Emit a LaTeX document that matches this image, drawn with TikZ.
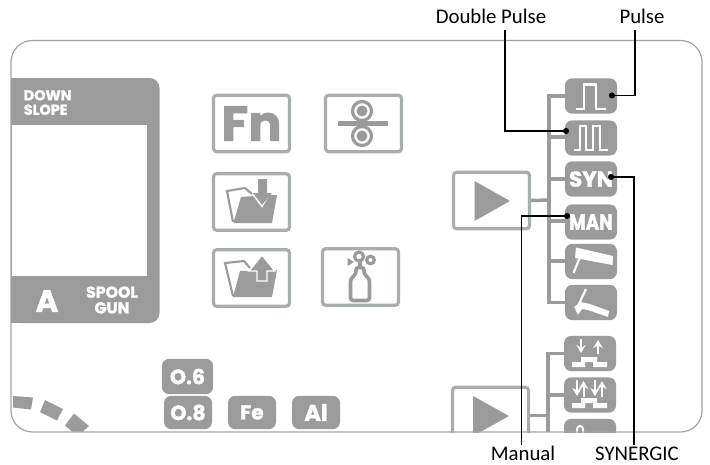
\documentclass[tikz,border=0pt]{standalone}
\usepackage{fontspec}
\usepackage{graphicx}
\setmainfont{Carlito}
\newfontfamily\pop[BoldFeatures={FakeBold=1.6}]{Poppins}
\usetikzlibrary{arrows.meta,calc}
\definecolor{ico}{HTML}{9B9B9B}
\definecolor{fr}{HTML}{A9ADAD}
\definecolor{pan}{HTML}{A3A3A3}
\newcommand{\pf}[1]{\pop\bfseries\fontsize{#1}{#1}\selectfont}
\tikzset{
 x=0.75pt,y=-0.75pt,
 btn/.style={fill=ico,rounded corners=5.5pt,minimum width=39pt,minimum height=26.5pt,inner sep=0pt,text=white},
 sbtn/.style={btn,minimum width=36pt,minimum height=25pt},
 fbox/.style={draw=fr,line width=2.4pt,rounded corners=2.5pt,fill=white,minimum width=57pt,minimum height=42.5pt,inner sep=0pt},
 wire/.style={draw=ico,line width=2.6pt},
 leader/.style={draw=black,line width=0.9pt,-{Circle[length=4.5pt,width=4.5pt]}},
 lbl/.style={font=\fontsize{15.6}{16}\selectfont,text=black,inner sep=0pt,text height=10pt,text depth=3.5pt},
 wl/.style={white,line width=1.7pt},
 disp/.style={white,align=center,inner sep=0pt},
 ar/.style={white,line width=1.5pt,-{Stealth[length=6pt,width=7pt]}},
}
\begin{document}
\begin{tikzpicture}
\useasboundingbox (0,0) rectangle (710,464);
% display
\fill[ico,rounded corners=7.5pt] (11,78) -- (159.5,78) -- (159.5,323) -- (11,323) -- cycle;
\fill[ico] (11,78) rectangle (30,323);
\fill[white] (12,125) rectangle (146.5,276);
\node[disp,anchor=west,align=left,font=\pf{10.8}] (ds) at (23.5,102.5) {\lineskip=0pt\baselineskip=9pt DOWN\\SLOPE};
\node[disp,font=\pf{23}] (da) at (47,301) {A};
\node[disp,font=\pf{11.8}] (dg) at (112,300) {\baselineskip=11pt SPOOL\\GUN};
% boxes
\node[fbox,text=ico,font=\pf{37}] (fn) at (251.5,123.5) {Fn};
\node[fbox] (roll) at (363.5,123.5) {};
\node[fbox] (fd) at (251.5,202) {};
\node[fbox] (fu) at (251.5,278) {};
\node[fbox] (gas) at (360.5,277) {};
% rollers
\draw[ico,line width=2.4pt] (362,111) circle[radius=9.5];
\draw[ico,line width=2.4pt] (362,136) circle[radius=9.5];
\fill[ico] (362,111) circle[radius=5.5];
\fill[ico] (362,136) circle[radius=5.5];
\draw[ico,line width=3.6pt] (338,123.5) -- (388,123.5);
% folder down
\fill[ico] (233.5,223) -- (272,223) -- (277,195) -- (270,195) -- (262,208) -- (253,196) -- (241,197) -- cycle;
\draw[ico,line width=1.6pt] (233,222) -- (227,191) -- (245,188) -- (252,194);
\fill[ico] (258,179) -- (267,179) -- (267,193) -- (272,193) -- (262,205) -- (253,193) -- (258,193) -- cycle;
% folder up
\fill[ico] (233,297) -- (272,297) -- (277,270) -- (240,271) -- cycle;
\draw[ico,line width=1.6pt] (233,296) -- (225,263) -- (244,261) -- (250,268);
\fill[ico,draw=white,line width=1.1pt] (262,255) -- (275,271) -- (267,271) -- (267,281) -- (257,281) -- (257,271) -- (249,271) -- cycle;
% bottle
\draw[ico,line width=2.7pt,rounded corners=2pt] (356,267.5) -- (364,267.5) -- (364,274) -- (369.5,279) -- (369.5,300.5) -- (350.5,300.5) -- (350.5,279) -- (356,274) -- cycle;
\draw[ico,line width=2.4pt] (359,256.5) circle[radius=4.5];
\draw[ico,line width=2.4pt] (370.5,260) circle[radius=3.8];
\fill[ico] (347.5,258) -- (354,262) -- (347.5,266) -- cycle;
\fill[ico] (358,261) rectangle (362,267);
% play 1
\node[fbox] (p1) at (491.5,200.5) {};
\fill[ico] (474.5,181) -- (510,201) -- (474.5,221) -- cycle;
% buttons
\node[btn] (b1) at (591,96) {};
\node[btn] (b2) at (591,138) {};
\node[btn,font=\pf{16.2}] (b3) at (591,179) {SYN};
\node[btn,font=\pf{13.6}] (b4) at (591,222) {\scalebox{1}[1.2]{MAN}};
\node[btn] (b5) at (591,261.5) {};
\node[btn] (b6) at (591,302.5) {};
\coordinate (busa) at (549,200);
\draw[wire] (p1.east) -- (busa);
\draw[wire] (b1.west) -| (b6.west -| busa) -- (b6.west);
\foreach \n/\yy in {b2/137,b3/179,b4/221,b5/261}{\draw[wire] (549,\yy) -- (565,\yy);}
% pulse glyphs
\draw[wl] (576,109) -- (584,109) -- (584,84.5) -- (596,84.5) -- (596,109) -- (606,109);
\draw[wl] (574,150) -- (580,150) -- (580,126) -- (586,126) -- (586,150) -- (593,150) -- (593,126) -- (600,126) -- (600,150) -- (608,150);
% torch 5
\fill[white] (576,247.5) -- (613,256) -- (612.5,265) -- (575,258) -- cycle;
\draw[white,line width=1.6pt] (580,257) -- (573.5,273);
% torch 6
\draw[white,line width=1.6pt] (586,289) -- (578,306);
\fill[white] (574,307) -- (581,302) -- (590,304) -- (609,311) -- (608,317) -- (588,310) -- (582,309) -- (578,315) -- cycle;
% lower group
\begin{scope}
\clip (0,0) rectangle (710,432);
\node[fbox] (p2) at (490.5,415.5) {};
\fill[ico] (473,396) -- (509,416) -- (473,436) -- cycle;
\node[btn] (c1) at (590,353.5) {};
\node[btn] (c2) at (590,395) {};
\node[btn] (c3) at (590,436.5) {};
\coordinate (busb) at (548,415.5);
\draw[wire] (p2.east) -- (busb);
\draw[wire] (c1.west) -| (548,432);
\draw[wire] (c2.west) -- (c2.west -| busb);
\draw[white,line width=1.5pt] (577,433) -- (577,429) arc[start angle=180,end angle=360,x radius=3,y radius=3] -- (583,433);
\end{scope}
% lower glyphs
\foreach \dy in {0,41}{
 \fill[white,yshift=-\dy*0.75pt] (572,367) -- (572,362) -- (581,362) -- (581,357) -- (597,357) -- (597,362) -- (607,362) -- (607,367) -- (593,367) -- (593,362) -- (585,362) -- (585,367) -- cycle;
}
\draw[ar] (581,339) -- (581,353);
\draw[ar] (598,354) -- (598,340);
\draw[ar] (577,380) -- (577,396);
\draw[ar] (583.5,397) -- (583.5,381);
\draw[ar] (595,380) -- (595,396);
\draw[ar] (602,397) -- (602,381);
% small buttons
\begin{scope}[every node/.style={sbtn}]
\node[minimum width=38.5pt,minimum height=26.5pt,font=\pf{15.5}] (s6) at (187.5,376.5) {O.6};
\node[font=\pf{15.5}] (s8) at (188,412.5) {O.8};
\node[font=\pf{15}] (sf) at (252,412.5) {Fe};
\node[font=\pf{17}] (sa) at (316,412.5) {Al};
\end{scope}
% arc dashes
\fill[ico] (13,396) -- (33,397.5) -- (31,409.5) -- (13,407.5) -- cycle;
\fill[ico] (45,400) -- (63,409) -- (57,420.5) -- (40,412) -- cycle;
\fill[ico] (74,413.5) -- (89,426) -- (83,431.5) -- (72,431.5) -- (65,425.5) -- cycle;
% panel
\draw[pan,line width=0.9pt,rounded corners=16pt] (11,40.5) rectangle (702,432);
% labels
\node[lbl] (dp) at (491,19) {Double Pulse};
\node[lbl] (pu) at (642,19) {Pulse};
\node[lbl] (ma) at (523,456) {Manual};
\node[lbl] (sy) at (637,456) {SYNERGIC};
\draw[leader] ($(dp.south)+(14,1.5)$) |- ($(b2.center)+(-22,-7)$);
\draw[leader] ($(pu.south)+(-7,1.5)$) |- ($(b1.center)+(18,-0.5)$);
\draw[leader] ($(sy.north)+(-3,-2)$) |- ($(b3.center)+(17,-2)$);
\draw[leader] ($(ma.north)+(-1.5,-2)$) |- ($(b4.center)+(-21,-6)$);
\end{tikzpicture}
\end{document}
